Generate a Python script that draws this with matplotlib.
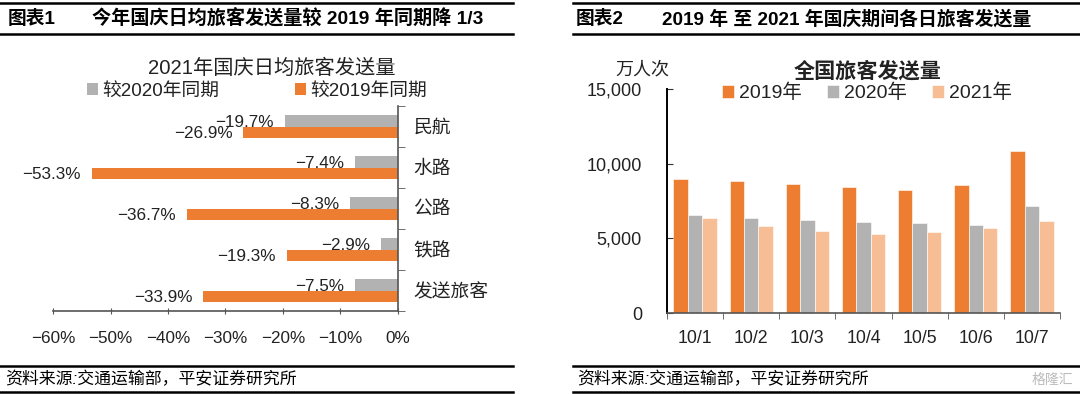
import numpy as np
import matplotlib
matplotlib.use('Agg')
import matplotlib.pyplot as plt
from matplotlib.lines import Line2D

plt.rcParams['font.family'] = ['Liberation Sans', 'Noto Sans CJK SC', 'DejaVu Sans']
plt.rcParams['axes.unicode_minus'] = True

# 图表1 数据
modes = ['民航', '水路', '公路', '铁路', '发送旅客']
vs2020 = [-19.7, -7.4, -8.3, -2.9, -7.5]
vs2019 = [-26.9, -53.3, -36.7, -19.3, -33.9]
xticks1 = [-60, -50, -40, -30, -20, -10, 0]

# 图表2 数据 (万人次)
days = ['10/1', '10/2', '10/3', '10/4', '10/5', '10/6', '10/7']
y2019 = [8970, 8840, 8640, 8440, 8240, 8550, 10870]
y2020 = [6560, 6340, 6230, 6120, 6030, 5920, 7190]
y2021 = [6340, 5830, 5510, 5310, 5400, 5710, 6140]

ORANGE = '#ED7D31'
GRAY = '#B2B2B2'
LIGHT = '#F7BE96'
TXT = '#222222'
W, H = 1080, 394

fig = plt.figure(figsize=(W / 100, H / 100), dpi=100)


def px(x0, y0, x1, y1):
    return [x0 / W, 1 - y1 / H, (x1 - x0) / W, (y1 - y0) / H]


def hline(x0, x1, y, lw=1.6):
    fig.add_artist(Line2D([x0 / W, x1 / W], [1 - y / H, 1 - y / H], color='black', lw=lw))


# 标题栏和来源栏
for x0, x1 in [(0, 513), (573, 1080)]:
    hline(x0, x1, 3, 1.8)
    hline(x0, x1, 34, 1.8)
    hline(x0, x1, 366, 1.8)
    hline(x0, x1, 392, 1.8)

fig.text(8 / W, 1 - 19 / H, '图表1', fontsize=13.5, fontweight='bold', va='center')
fig.text(92 / W, 1 - 19 / H, '今年国庆日均旅客发送量较 2019 年同期降 1/3', fontsize=13.8,
         fontweight='bold', va='center')
fig.text(576 / W, 1 - 19 / H, '图表2', fontsize=13.5, fontweight='bold', va='center')
fig.text(662 / W, 1 - 19 / H, '2019 年 至 2021 年国庆期间各日旅客发送量', fontsize=13.6,
         fontweight='bold', va='center')
fig.text(5 / W, 1 - 379 / H, '资料来源:交通运输部，平安证券研究所', fontsize=12.2,
         style='italic', va='center')
fig.text(577 / W, 1 - 379 / H, '资料来源:交通运输部，平安证券研究所', fontsize=12.2,
         style='italic', va='center')

# ---------- 图表1 ----------
ax1 = fig.add_axes(px(53, 106, 398, 311))
pos = np.arange(len(modes))
bh = 0.29
ax1.barh(pos - bh / 2, vs2020, height=bh, color=GRAY, label='较2020年同期')
ax1.barh(pos + bh / 2, vs2019, height=bh, color=ORANGE, label='较2019年同期')
for i in range(len(modes)):
    ax1.text(vs2020[i] - 1.9, pos[i] - bh / 2 + 0.05, '−%.1f%%' % abs(vs2020[i]),
             ha='right', va='center', fontsize=12.3, color=TXT)
    ax1.text(vs2019[i] - 1.9, pos[i] + bh / 2 + 0.03, '−%.1f%%' % abs(vs2019[i]),
             ha='right', va='center', fontsize=12.3, color=TXT)
ax1.set_xlim(-60, 0)
ax1.set_ylim(len(modes) - 0.5, -0.5)
ax1.set_xticks(xticks1)
ax1.set_xticklabels(['−%d%%' % abs(v) if v else '0%' for v in xticks1])
ax1.yaxis.tick_right()
ax1.set_yticks(pos)
ax1.set_yticklabels(modes)
ax1.set_yticks(np.arange(-0.5, len(modes), 1), minor=True)
ax1.tick_params(axis='y', which='major', length=0, pad=11, labelsize=13.5, labelcolor=TXT)
ax1.tick_params(axis='y', which='minor', length=5, direction='out', color='#555555')
ax1.tick_params(axis='x', length=5, direction='inout', color='#555555', labelsize=12.3,
                pad=12, labelcolor=TXT)
for s in ['top', 'left']:
    ax1.spines[s].set_visible(False)
for s in ['right', 'bottom']:
    ax1.spines[s].set_color('#555555')
    ax1.spines[s].set_linewidth(1.2)

fig.text(272 / W, 1 - 68 / H, '2021年国庆日均旅客发送量', fontsize=14.6, ha='center', va='center',
         color=TXT)
h1, l1 = ax1.get_legend_handles_labels()
fig.legend(handles=h1, labels=l1, loc='center', bbox_to_anchor=(257 / W, 1 - 91 / H), ncol=2,
           frameon=False, fontsize=13.5, handlelength=0.6, handleheight=0.6, columnspacing=4.0,
           handletextpad=0.25, labelcolor=TXT)

# ---------- 图表2 ----------
ax2 = fig.add_axes(px(667, 89, 1060, 313))
x = np.arange(len(days))
bw = 0.257
ax2.bar(x - bw, y2019, width=bw, color=ORANGE, edgecolor='white', lw=0.4, label='2019年')
ax2.bar(x, y2020, width=bw, color=GRAY, edgecolor='white', lw=0.4, label='2020年')
ax2.bar(x + bw, y2021, width=bw, color=LIGHT, edgecolor='white', lw=0.4, label='2021年')
ax2.set_xlim(-0.5, len(days) - 0.5)
ax2.set_ylim(0, 15000)
ax2.set_yticks([0, 5000, 10000, 15000])
ax2.set_yticklabels(['0', '5,000', '10,000', '15,000'])
ax2.set_xticks(x)
ax2.set_xticklabels(days)
ax2.set_xticks(np.arange(-0.5, len(days), 1), minor=True)
ax2.tick_params(axis='x', which='major', length=0, pad=12, labelsize=12.8, labelcolor=TXT)
ax2.tick_params(axis='x', which='minor', length=4, direction='out', color='#555555')
ax2.tick_params(axis='y', length=4, direction='in', color='#333333', labelsize=13, pad=18,
                labelcolor=TXT)
for s in ['top', 'right']:
    ax2.spines[s].set_visible(False)
ax2.spines['left'].set_linewidth(1.4)
ax2.spines['bottom'].set_linewidth(1.2)
ax2.spines['bottom'].set_color('#555555')

fig.text(642 / W, 1 - 70 / H, '万人次', fontsize=13, ha='center', va='center', color=TXT)
fig.text(868 / W, 1 - 71 / H, '全国旅客发送量', fontsize=15.2, fontweight='bold', ha='center',
         va='center', color=TXT)
h2, l2 = ax2.get_legend_handles_labels()
fig.legend(handles=h2, labels=l2, loc='center', bbox_to_anchor=(867 / W, 1 - 93 / H), ncol=3,
           frameon=False, fontsize=14, handlelength=0.6, handleheight=0.6, columnspacing=1.3,
           handletextpad=0.25, labelcolor=TXT)

fig.text(1052 / W, 1 - 380 / H, '格隆汇', fontsize=10, color='#BBBBBB', ha='center', va='center')

fig.savefig('out.png', dpi=100)
